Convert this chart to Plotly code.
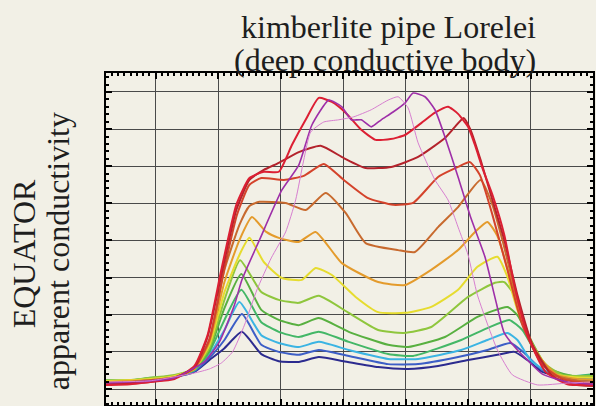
import plotly.graph_objects as go

# ---- data (station units on x, apparent conductivity units on y; no tick labels in source) ----
x_navy = [2.0, 5.9, 9.1, 13.0, 16.2, 18.6, 21.0, 23.8, 26.9, 29.7, 32.9, 36.1, 40.1, 45.6, 50.4, 55.2, 60.0, 64.7, 67.4, 69.5, 71.9, 75.9, 80.0]
y_navy = [11.9, 12.2, 12.4, 13.2, 14.6, 17.8, 21.0, 25.4, 19.4, 17.5, 17.3, 18.6, 17.5, 15.9, 15.4, 16.2, 17.8, 19.2, 20.0, 17.8, 14.6, 13.0, 12.2]

x_blue = [2.0, 5.9, 9.1, 13.0, 16.2, 18.6, 21.0, 23.8, 26.9, 29.7, 32.9, 36.1, 40.9, 47.2, 52.0, 58.4, 63.1, 66.8, 69.0, 71.9, 75.9, 80.0]
y_blue = [11.6, 11.9, 12.2, 13.2, 14.8, 18.4, 23.2, 30.2, 21.9, 20.0, 19.2, 20.5, 18.9, 16.7, 16.7, 18.6, 20.5, 22.4, 19.7, 15.1, 13.2, 12.7]

x_cyan = [2.0, 5.9, 9.1, 13.0, 16.2, 18.6, 21.0, 23.4, 26.9, 29.7, 32.9, 36.1, 40.9, 47.2, 52.0, 58.9, 63.1, 66.3, 67.9, 70.0, 72.7, 76.7, 80.0]
y_cyan = [12.2, 12.2, 12.7, 13.5, 15.1, 19.2, 25.9, 33.4, 24.5, 22.4, 21.3, 22.7, 20.5, 18.1, 18.1, 20.5, 23.2, 25.1, 23.2, 17.8, 14.6, 13.5, 13.8]

x_green3 = [2.0, 5.9, 9.1, 13.0, 16.2, 18.6, 21.0, 23.7, 26.9, 29.7, 32.9, 36.1, 40.9, 47.2, 51.2, 58.9, 63.1, 66.6, 68.7, 70.8, 73.5, 76.7, 80.0]
y_green3 = [12.4, 12.4, 13.0, 13.5, 15.1, 20.0, 28.6, 36.7, 28.0, 25.4, 24.0, 25.4, 22.7, 19.4, 18.9, 23.2, 26.4, 28.6, 25.9, 20.0, 14.6, 13.5, 14.0]

x_green2 = [2.0, 5.9, 9.1, 13.0, 16.2, 18.6, 21.0, 23.7, 26.9, 29.7, 32.9, 36.1, 40.9, 47.2, 50.4, 56.3, 61.5, 66.3, 67.9, 69.8, 72.7, 76.7, 80.0]
y_green2 = [11.9, 12.4, 12.7, 13.5, 15.4, 20.5, 31.8, 41.0, 31.3, 28.6, 27.2, 29.1, 25.4, 21.9, 21.3, 24.0, 29.4, 32.1, 29.9, 24.0, 15.7, 13.5, 13.2]

x_green1 = [2.0, 5.9, 9.1, 13.0, 16.2, 18.6, 21.0, 23.5, 26.9, 29.7, 32.9, 36.1, 40.9, 45.6, 49.7, 54.1, 60.0, 64.3, 65.8, 67.9, 69.5, 71.9, 75.1, 80.0]
y_green1 = [12.2, 12.2, 13.0, 13.8, 15.4, 21.0, 34.0, 44.7, 36.1, 34.0, 33.2, 35.1, 30.5, 25.9, 25.1, 26.7, 34.8, 38.6, 38.8, 34.0, 25.1, 17.3, 13.8, 13.5]

x_yellow = [2.0, 5.9, 9.1, 13.0, 16.2, 18.6, 21.0, 23.4, 25.0, 27.3, 30.2, 33.4, 35.6, 38.2, 42.0, 45.6, 49.9, 54.1, 58.4, 61.5, 64.7, 66.3, 67.9, 70.3, 73.5, 76.7, 80.0]
y_yellow = [12.2, 12.4, 12.7, 13.5, 15.4, 21.9, 36.1, 46.1, 50.7, 44.2, 39.9, 39.4, 42.6, 40.7, 34.8, 30.7, 30.5, 32.1, 36.7, 42.9, 45.6, 40.2, 31.3, 21.9, 14.3, 13.2, 13.0]

x_gold = [2.0, 5.9, 9.1, 13.0, 16.2, 18.6, 21.0, 23.4, 25.4, 27.7, 29.7, 32.9, 35.6, 39.8, 45.6, 49.9, 54.1, 58.4, 61.1, 63.1, 64.7, 66.6, 68.7, 71.1, 74.3, 77.5, 80.0]
y_gold = [11.9, 12.2, 12.4, 13.2, 15.4, 22.7, 38.8, 50.1, 56.3, 52.3, 50.7, 49.6, 52.3, 43.9, 38.8, 38.0, 42.1, 47.4, 52.3, 55.0, 51.2, 40.7, 28.6, 19.2, 13.8, 12.7, 12.4]

x_brown = [2.0, 5.9, 9.1, 13.0, 16.2, 18.6, 21.0, 23.4, 25.0, 26.6, 30.8, 34.0, 37.2, 40.4, 43.6, 48.8, 51.5, 55.2, 58.4, 62.0, 63.9, 65.5, 67.9, 70.3, 73.5, 77.5, 80.0]
y_brown = [11.6, 11.9, 12.4, 13.2, 15.7, 23.2, 42.1, 54.2, 59.3, 60.4, 60.1, 58.2, 62.8, 57.4, 49.3, 47.4, 46.9, 53.6, 59.0, 66.3, 59.6, 50.1, 34.0, 21.9, 14.0, 12.2, 11.9]

x_redorange = [2.0, 5.9, 9.1, 13.0, 16.2, 18.6, 21.0, 23.0, 25.0, 26.9, 30.5, 33.7, 36.9, 40.1, 44.0, 48.0, 51.2, 55.2, 58.4, 60.3, 61.9, 63.9, 66.3, 68.7, 71.9, 75.1, 80.0]
y_redorange = [11.3, 11.6, 12.2, 13.0, 15.7, 23.5, 42.6, 56.9, 65.0, 66.8, 66.3, 67.4, 70.6, 66.3, 61.4, 59.6, 60.1, 67.1, 69.8, 71.1, 67.6, 56.9, 42.1, 27.2, 16.5, 12.7, 11.3]

x_darkred = [2.0, 5.9, 9.1, 13.0, 16.2, 18.3, 20.5, 22.9, 25.0, 27.3, 29.7, 32.9, 36.4, 40.1, 43.6, 47.7, 52.0, 56.3, 57.9, 59.3, 60.4, 62.0, 63.9, 65.8, 67.9, 70.3, 73.5, 76.7, 80.0]
y_darkred = [11.3, 11.6, 11.9, 13.0, 15.9, 24.0, 40.7, 58.2, 66.3, 69.0, 70.9, 73.8, 75.5, 72.2, 69.5, 69.8, 72.5, 77.6, 80.6, 83.0, 79.8, 71.7, 60.9, 50.1, 35.3, 21.9, 13.5, 11.3, 10.8]

x_crimson = [2.0, 5.9, 9.1, 13.0, 16.2, 18.3, 20.5, 22.9, 25.0, 27.3, 29.7, 31.8, 34.0, 36.1, 38.2, 40.4, 42.9, 45.2, 47.6, 49.9, 52.5, 54.7, 56.8, 58.4, 60.0, 61.1, 62.4, 63.9, 65.8, 67.4, 69.5, 72.4, 75.9, 80.0]
y_crimson = [11.1, 11.3, 11.9, 12.7, 16.2, 24.5, 42.1, 59.6, 66.8, 68.5, 68.5, 75.7, 82.5, 88.4, 87.3, 84.4, 79.8, 77.1, 77.3, 78.4, 81.6, 84.4, 86.0, 84.1, 80.6, 75.7, 69.0, 62.3, 51.5, 38.0, 24.5, 14.6, 11.3, 11.1]

x_purple = [2.0, 5.9, 9.1, 13.0, 16.2, 17.8, 20.2, 22.6, 23.8, 26.6, 30.2, 32.9, 35.0, 37.7, 39.8, 41.3, 42.9, 44.5, 46.1, 48.0, 49.9, 51.2, 53.1, 54.7, 56.3, 58.4, 60.4, 62.7, 64.4, 65.8, 67.9, 69.5, 71.9, 75.9, 80.0]
y_purple = [11.6, 11.9, 12.2, 13.0, 15.7, 17.3, 22.7, 32.6, 39.4, 50.1, 63.6, 70.3, 81.1, 87.8, 86.0, 82.5, 82.5, 80.6, 82.5, 84.6, 87.0, 89.7, 88.7, 85.2, 77.9, 67.1, 56.3, 45.6, 34.0, 25.1, 20.5, 17.8, 14.0, 11.9, 11.3]

x_pink = [2.0, 9.1, 16.2, 18.6, 20.5, 22.3, 24.2, 26.2, 28.5, 30.8, 32.4, 33.7, 34.8, 36.9, 39.3, 41.7, 44.5, 47.2, 48.8, 50.4, 52.0, 54.7, 56.8, 58.4, 60.0, 61.5, 64.7, 67.1, 71.1, 75.9, 80.0]
y_pink = [11.9, 12.2, 14.3, 15.4, 17.0, 20.0, 27.2, 36.7, 45.3, 52.3, 60.9, 71.7, 79.2, 81.9, 82.5, 83.3, 85.2, 87.8, 88.7, 85.7, 76.3, 66.3, 60.9, 53.6, 46.1, 35.3, 20.5, 13.8, 11.1, 11.6, 11.9]

title_line1 = "kimberlite pipe Lorelei"
title_line2 = "(deep conductive body)"
ytitle_line1 = "EQUATOR"
ytitle_line2 = "apparent conductivity"

# ---- styles ----
BG = "#f2f0e6"
series = [
    (x_navy, y_navy, "#2c2b8f", 2.0),
    (x_blue, y_blue, "#3c5ec6", 2.0),
    (x_cyan, y_cyan, "#3bb4e3", 2.0),
    (x_green3, y_green3, "#43b767", 2.0),
    (x_green2, y_green2, "#58b040", 2.0),
    (x_green1, y_green1, "#8fc63d", 2.0),
    (x_yellow, y_yellow, "#e6dc2f", 2.0),
    (x_gold, y_gold, "#e49b2c", 2.0),
    (x_brown, y_brown, "#c86a2e", 2.0),
    (x_redorange, y_redorange, "#d4432b", 2.0),
    (x_darkred, y_darkred, "#b4232c", 2.0),
    (x_crimson, y_crimson, "#dc1f33", 2.0),
    (x_purple, y_purple, "#9e2fa8", 1.6),
    (x_pink, y_pink, "#d77fd0", 1.0),
]

fig = go.Figure()
for xs, ys, col, w in series:
    fig.add_trace(go.Scatter(x=xs, y=ys, mode="lines",
                             line=dict(color=col, width=w, shape="spline", smoothing=0.5),
                             hoverinfo="skip"))

axis_common = dict(
    showticklabels=False, showgrid=True, gridcolor="#4a4a4a", gridwidth=1,
    zeroline=False, showline=True, linecolor="black", linewidth=2, mirror="ticks",
    ticks="inside", ticklen=6, tickwidth=1.5, tickcolor="black",
)
fig.update_xaxes(range=[2.04, 80], dtick=10, tick0=0,
                 minor=dict(dtick=1, ticks="inside", ticklen=3, tickcolor="black", showgrid=False),
                 **axis_common)
fig.update_yaxes(range=[5.69, 95.1], dtick=10, tick0=0,
                 minor=dict(dtick=2, ticks="inside", ticklen=3, tickcolor="black", showgrid=False),
                 **axis_common)

serif = dict(family="Liberation Serif, Times New Roman, serif", size=32, color="#1e1e1e")
plot_l, plot_r, plot_t, plot_b = 106, 595, 73, 405
pw, ph = plot_r - plot_l, plot_b - plot_t

def px2paper(px, py):
    return (px - plot_l) / pw, (plot_b - py) / ph

ann = []
for text, (cx, cy) in [(title_line1, (390, 27)), (title_line2, (386, 60))]:
    ax, ay = px2paper(cx, cy)
    ann.append(dict(text=text, x=ax, y=ay, xref="paper", yref="paper", showarrow=False,
                    xanchor="center", yanchor="middle", font=serif))
for text, (cx, cy) in [(ytitle_line1, (24, 254)), (ytitle_line2, (58, 251))]:
    ax, ay = px2paper(cx, cy)
    ann.append(dict(text=text, x=ax, y=ay, xref="paper", yref="paper", showarrow=False,
                    xanchor="center", yanchor="middle", textangle=-90, font=serif))

fig.update_layout(
    width=596, height=406,
    margin=dict(l=plot_l, r=596 - plot_r, t=plot_t, b=406 - plot_b),
    paper_bgcolor=BG, plot_bgcolor=BG, showlegend=False,
    annotations=ann,
)
fig.write_html("out.html")
